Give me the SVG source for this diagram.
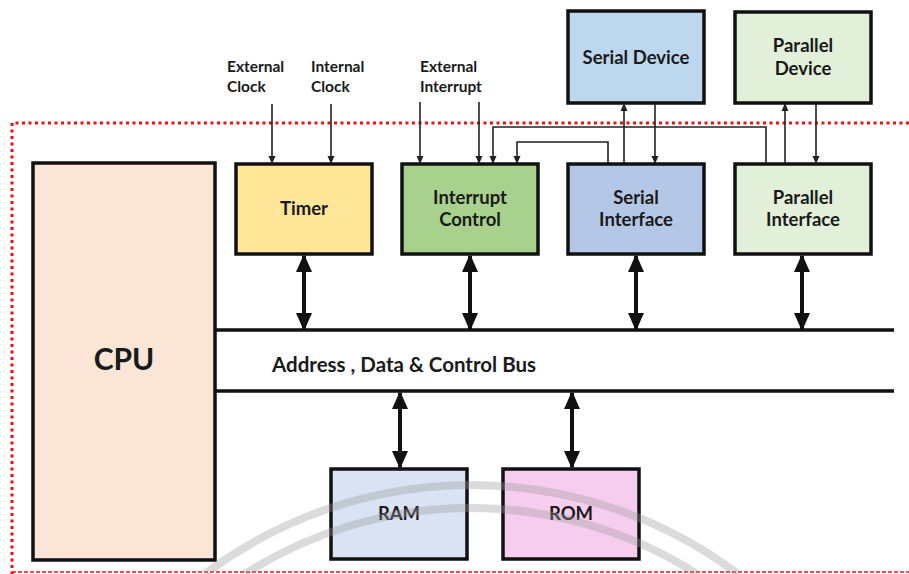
<svg xmlns="http://www.w3.org/2000/svg" width="909" height="574" viewBox="0 0 909 574">
<defs>
<style>
.box{stroke:#111;stroke-width:3.5}
.t{font-family:Lato,"Liberation Sans",sans-serif;font-weight:bold;fill:#1a1a1a;text-anchor:middle}
.s{text-anchor:start}
.lbl{font-size:15.5px}
.nm{font-size:18.5px}
.thin{stroke:#222;stroke-width:1.6;fill:none}
.bus{stroke:#111;stroke-width:3.5}
.big{stroke:#111;stroke-width:4;fill:none}
</style>
<marker id="ah" markerWidth="8" markerHeight="8" refX="7" refY="4" orient="auto" markerUnits="userSpaceOnUse" viewBox="0 0 8 8">
<path d="M0,0.5 L8,4 L0,7.5 z" fill="#222"/>
</marker>
<marker id="bh" markerWidth="18" markerHeight="18" refX="16" refY="9" orient="auto-start-reverse" markerUnits="userSpaceOnUse" viewBox="0 0 18 18">
<path d="M0,1 L18,9 L0,17 z" fill="#111"/>
</marker>
</defs>
<rect width="909" height="574" fill="#fff"/>
<g id="boundary" fill="none" stroke="#f01010" stroke-width="3" stroke-dasharray="3,3.5">
<path d="M909,123 L12,123 L12,574"/>
<path d="M12,572 L909,572" stroke-width="1.5" stroke-dasharray="4,2"/>
</g>
<g id="cpu"><rect class="box" x="33" y="163" width="182" height="397" fill="#fbe5d6"/><text class="t" x="124" y="370" font-size="30">CPU</text></g>
<g id="timer"><rect class="box" x="236" y="164" width="136" height="90" fill="#ffe699"/><text class="t nm" x="304" y="215">Timer</text></g>
<g id="interrupt"><rect class="box" x="402" y="164" width="136" height="90" fill="#a9d18e"/><text class="t nm" x="470" y="204">Interrupt</text><text class="t nm" x="470" y="226">Control</text></g>
<g id="serial-if"><rect class="box" x="568" y="164" width="136" height="90" fill="#b4c7e7"/><text class="t nm" x="636" y="204">Serial</text><text class="t nm" x="636" y="226">Interface</text></g>
<g id="parallel-if"><rect class="box" x="735" y="164" width="136" height="90" fill="#e2f0d9"/><text class="t nm" x="803" y="204">Parallel</text><text class="t nm" x="803" y="226">Interface</text></g>
<g id="serial-dev"><rect class="box" x="568" y="11" width="136" height="92" fill="#bdd7ee"/><text class="t nm" x="636" y="64">Serial Device</text></g>
<g id="parallel-dev"><rect class="box" x="735" y="12" width="136" height="91" fill="#e2f0d9"/><text class="t nm" x="803" y="52">Parallel</text><text class="t nm" x="803" y="75">Device</text></g>
<g id="ram"><rect class="box" x="331" y="469" width="136" height="90" fill="#dae3f3"/><text class="t nm" x="399" y="520">RAM</text></g>
<g id="rom"><rect class="box" x="503" y="469" width="136" height="90" fill="#f6cdee"/><text class="t nm" x="571" y="520">ROM</text></g>
<g id="bus"><line class="bus" x1="215" y1="330" x2="894" y2="330"/><line class="bus" x1="215" y1="391" x2="894" y2="391"/><text class="t s" x="272" y="372" font-size="20.5">Address , Data &amp; Control Bus</text></g>
<g id="labels">
<text class="t lbl s" x="227" y="72">External</text><text class="t lbl s" x="227" y="92">Clock</text>
<text class="t lbl s" x="311" y="72">Internal</text><text class="t lbl s" x="311" y="92">Clock</text>
<text class="t lbl s" x="420" y="72">External</text><text class="t lbl s" x="420" y="92">Interrupt</text>
</g>
<g id="connectors">
<line class="thin" x1="272" y1="104" x2="272" y2="163" marker-end="url(#ah)"/>
<line class="thin" x1="331" y1="104" x2="331" y2="163" marker-end="url(#ah)"/>
<line class="thin" x1="420" y1="102" x2="420" y2="163" marker-end="url(#ah)"/>
<line class="thin" x1="479" y1="102" x2="479" y2="163" marker-end="url(#ah)"/>
<polyline class="thin" points="766,163 766,127 493,127 493,163" marker-end="url(#ah)"/>
<polyline class="thin" points="608,163 608,142 517,142 517,163" marker-end="url(#ah)"/>
<line class="thin" x1="624" y1="163" x2="624" y2="104" marker-end="url(#ah)"/>
<line class="thin" x1="655" y1="104" x2="655" y2="163" marker-end="url(#ah)"/>
<line class="thin" x1="785" y1="163" x2="785" y2="104" marker-end="url(#ah)"/>
<line class="thin" x1="816" y1="104" x2="816" y2="163" marker-end="url(#ah)"/>
<line class="big" x1="304" y1="256" x2="304" y2="329" marker-start="url(#bh)" marker-end="url(#bh)"/>
<line class="big" x1="470" y1="256" x2="470" y2="329" marker-start="url(#bh)" marker-end="url(#bh)"/>
<line class="big" x1="636" y1="256" x2="636" y2="329" marker-start="url(#bh)" marker-end="url(#bh)"/>
<line class="big" x1="802" y1="256" x2="802" y2="329" marker-start="url(#bh)" marker-end="url(#bh)"/>
<line class="big" x1="400" y1="393" x2="400" y2="467" marker-start="url(#bh)" marker-end="url(#bh)"/>
<line class="big" x1="572" y1="393" x2="572" y2="467" marker-start="url(#bh)" marker-end="url(#bh)"/>
</g>
<g id="watermark" fill="none" stroke="#9a9a9a" stroke-width="8" opacity="0.35">
<path d="M205,574 A443.5,443.5 0 0 1 738,574"/>
<path d="M245,574 A420,420 0 0 1 697,574"/>
</g>
</svg>
